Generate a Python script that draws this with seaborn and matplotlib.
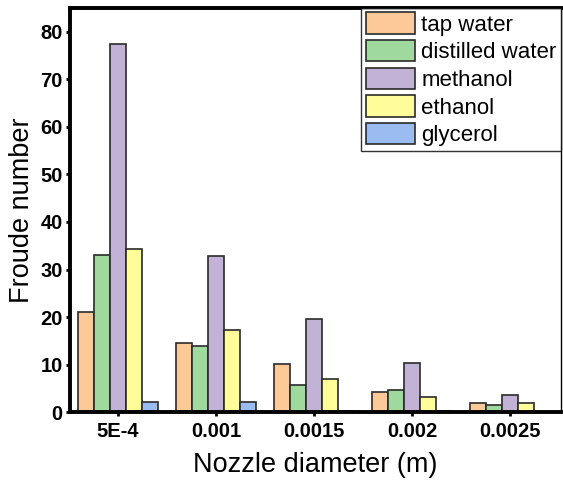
import matplotlib
matplotlib.use("Agg")
import matplotlib.pyplot as plt
import seaborn as sns
import pandas as pd

diameters = ["5E-4", "0.001", "0.0015", "0.002", "0.0025"]
liquids = ["tap water", "distilled water", "methanol", "ethanol", "glycerol"]
tap_water = [21.0, 14.6, 10.1, 4.2, 2.0]
distilled_water = [33.0, 13.9, 5.7, 4.6, 1.6]
methanol = [77.5, 32.9, 19.6, 10.3, 3.6]
ethanol = [34.3, 17.3, 7.0, 3.2, 2.0]
glycerol = [2.2, 2.2, 0.3, 0.2, 0.1]
colors = ["#FDC998", "#A0D99E", "#C2B2D6", "#FEFD9A", "#9ABCF0"]

series = [tap_water, distilled_water, methanol, ethanol, glycerol]
rows = []
for name, vals in zip(liquids, series):
    for d, v in zip(diameters, vals):
        rows.append({"diameter": d, "liquid": name, "Fr": v})
df = pd.DataFrame(rows)

sns.set_style("white")
plt.rcParams["font.family"] = ["Liberation Sans", "DejaVu Sans"]
plt.rcParams["text.color"] = "black"
plt.rcParams["axes.labelcolor"] = "black"
plt.rcParams["xtick.color"] = "black"
plt.rcParams["ytick.color"] = "black"

fig = plt.figure(figsize=(5.63, 4.86), dpi=100)
ax = fig.add_axes([0.124, 0.152, 0.8725, 0.8315])
sns.barplot(data=df, x="diameter", y="Fr", hue="liquid", order=diameters,
            hue_order=liquids, palette=colors, width=0.82, ax=ax,
            edgecolor="#2a2a2a", linewidth=1.2, saturation=1, errorbar=None)

ax.set_xlim(-0.49, 4.52)
ax.set_ylim(0, 85)
ax.set_yticks(range(0, 81, 10))
ax.set_xlabel("Nozzle diameter (m)", fontsize=19.5, labelpad=8)
ax.set_ylabel("Froude number", fontsize=19.5, labelpad=4)
for lab in ax.get_xticklabels() + ax.get_yticklabels():
    lab.set_fontweight("bold")
ax.tick_params(axis="both", labelsize=14.5, direction="out", length=3, width=2,
               bottom=True, left=True, color="black", labelcolor="black")
ax.tick_params(axis="x", pad=4)
ax.tick_params(axis="y", pad=2)
for side in ["left", "bottom", "top"]:
    ax.spines[side].set_linewidth(2.8)
    ax.spines[side].set_color("black")
ax.spines["right"].set_linewidth(1.0)
ax.spines["right"].set_color("black")

leg = ax.legend(loc="upper right", fontsize=16, frameon=True, fancybox=False,
                edgecolor="black", handlelength=2.2, handleheight=1.1,
                borderaxespad=0.0, labelspacing=0.2, handletextpad=0.3,
                borderpad=0.2)
leg.get_frame().set_linewidth(1.0)
for t in leg.get_texts():
    t.set_color("black")

fig.savefig("out.png", dpi=100)
